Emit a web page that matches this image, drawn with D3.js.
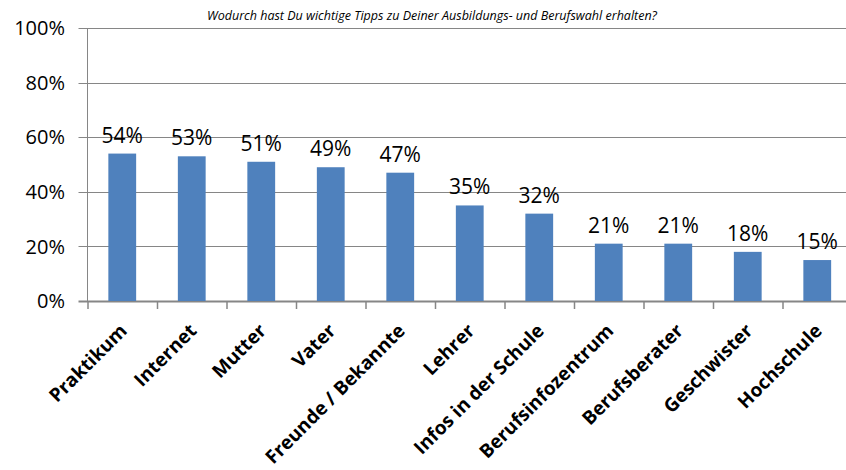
<!DOCTYPE html>
<html>
<head>
<meta charset="utf-8">
<script src="https://cdn.jsdelivr.net/npm/d3@7"></script>
<style>
  body { margin: 0; background: #fff; }
  svg { display: block; }
  text { font-family: "Open Sans", "Noto Sans", sans-serif; fill: #000; }
</style>
</head>
<body>
<div id="chart"></div>
<script>
// Data
const title = 'Wodurch hast Du wichtige Tipps zu Deiner Ausbildungs- und Berufswahl erhalten?';
const categories = ['Praktikum', 'Internet', 'Mutter', 'Vater', 'Freunde / Bekannte', 'Lehrer',
  'Infos in der Schule', 'Berufsinfozentrum', 'Berufsberater', 'Geschwister', 'Hochschule'];
const values = [0.54, 0.53, 0.51, 0.49, 0.47, 0.35, 0.32, 0.21, 0.21, 0.18, 0.15];
const yTicks = [0, 0.2, 0.4, 0.6, 0.8, 1.0];

// Set up chart dimensions
const width = 846, height = 470;
const plotLeft = 87.5, plotRight = 852, plotTop = 28, plotBottom = 301;

const svg = d3.select('#chart')
  .append('svg')
  .attr('width', width)
  .attr('height', height);

// Create scales
const xScale = d3.scaleBand().domain(categories).range([plotLeft, plotRight]).paddingInner(0.6).paddingOuter(0.3);
const xGroup = d3.scaleBand().domain(categories).range([plotLeft, plotRight]);
const yScale = d3.scaleLinear().domain([0, 1]).range([plotBottom, plotTop]);

const gridColor = '#868686';

// Gridlines + y ticks
svg.append('g')
  .selectAll('line')
  .data(yTicks)
  .enter()
  .append('line')
  .attr('x1', plotLeft - 9)
  .attr('x2', plotRight)
  .attr('y1', (d) => Math.round(yScale(d)) + 0.5)
  .attr('y2', (d) => Math.round(yScale(d)) + 0.5)
  .attr('stroke', gridColor)
  .attr('stroke-width', (d) => (d === 0 ? 2 : 1));

// Y axis line
svg.append('line')
  .attr('x1', plotLeft).attr('x2', plotLeft)
  .attr('y1', yScale(1)).attr('y2', yScale(0))
  .attr('stroke', gridColor);

// Y labels
svg.append('g')
  .selectAll('text')
  .data(yTicks)
  .enter()
  .append('text')
  .attr('x', 65)
  .attr('y', (d) => yScale(d))
  .attr('dy', '0.36em')
  .attr('text-anchor', 'end')
  .style('font-size', '20px')
  .text(d3.format('.0%'));

// X tick marks
svg.append('g')
  .selectAll('line')
  .data(categories)
  .enter()
  .append('line')
  .attr('x1', (d) => xGroup(d) + 0.5)
  .attr('x2', (d) => xGroup(d) + 0.5)
  .attr('y1', plotBottom)
  .attr('y2', plotBottom + 8)
  .attr('stroke', gridColor)
  .attr('stroke-width', 1.5);

// Bars
svg.append('g')
  .selectAll('rect')
  .data(values)
  .enter()
  .append('rect')
  .attr('x', (d, i) => xScale(categories[i]))
  .attr('y', (d) => yScale(d))
  .attr('width', xScale.bandwidth())
  .attr('height', (d) => yScale(0) - yScale(d))
  .attr('fill', '#4F81BD');

// Value labels
svg.append('g')
  .selectAll('text')
  .data(values)
  .enter()
  .append('text')
  .attr('x', (d, i) => xScale(categories[i]) + xScale.bandwidth() / 2)
  .attr('y', (d) => yScale(d) - 11)
  .attr('text-anchor', 'middle')
  .style('font-size', '21px')
  .text(d3.format('.0%'));

// Category labels
svg.append('g')
  .selectAll('text')
  .data(categories)
  .enter()
  .append('text')
  .attr('transform', (d) => `translate(${xGroup(d) + xGroup.bandwidth() / 2 + 6},${plotBottom + 31}) rotate(-45)`)
  .attr('text-anchor', 'end')
  .style('font-size', '19px')
  .style('font-weight', 'bold')
  .text((d) => d);

// Title
svg.append('text')
  .attr('x', 432)
  .attr('y', 20)
  .attr('text-anchor', 'middle')
  .style('font-size', '12.5px')
  .style('font-style', 'italic')
  .text(title);
</script>
</body>
</html>
